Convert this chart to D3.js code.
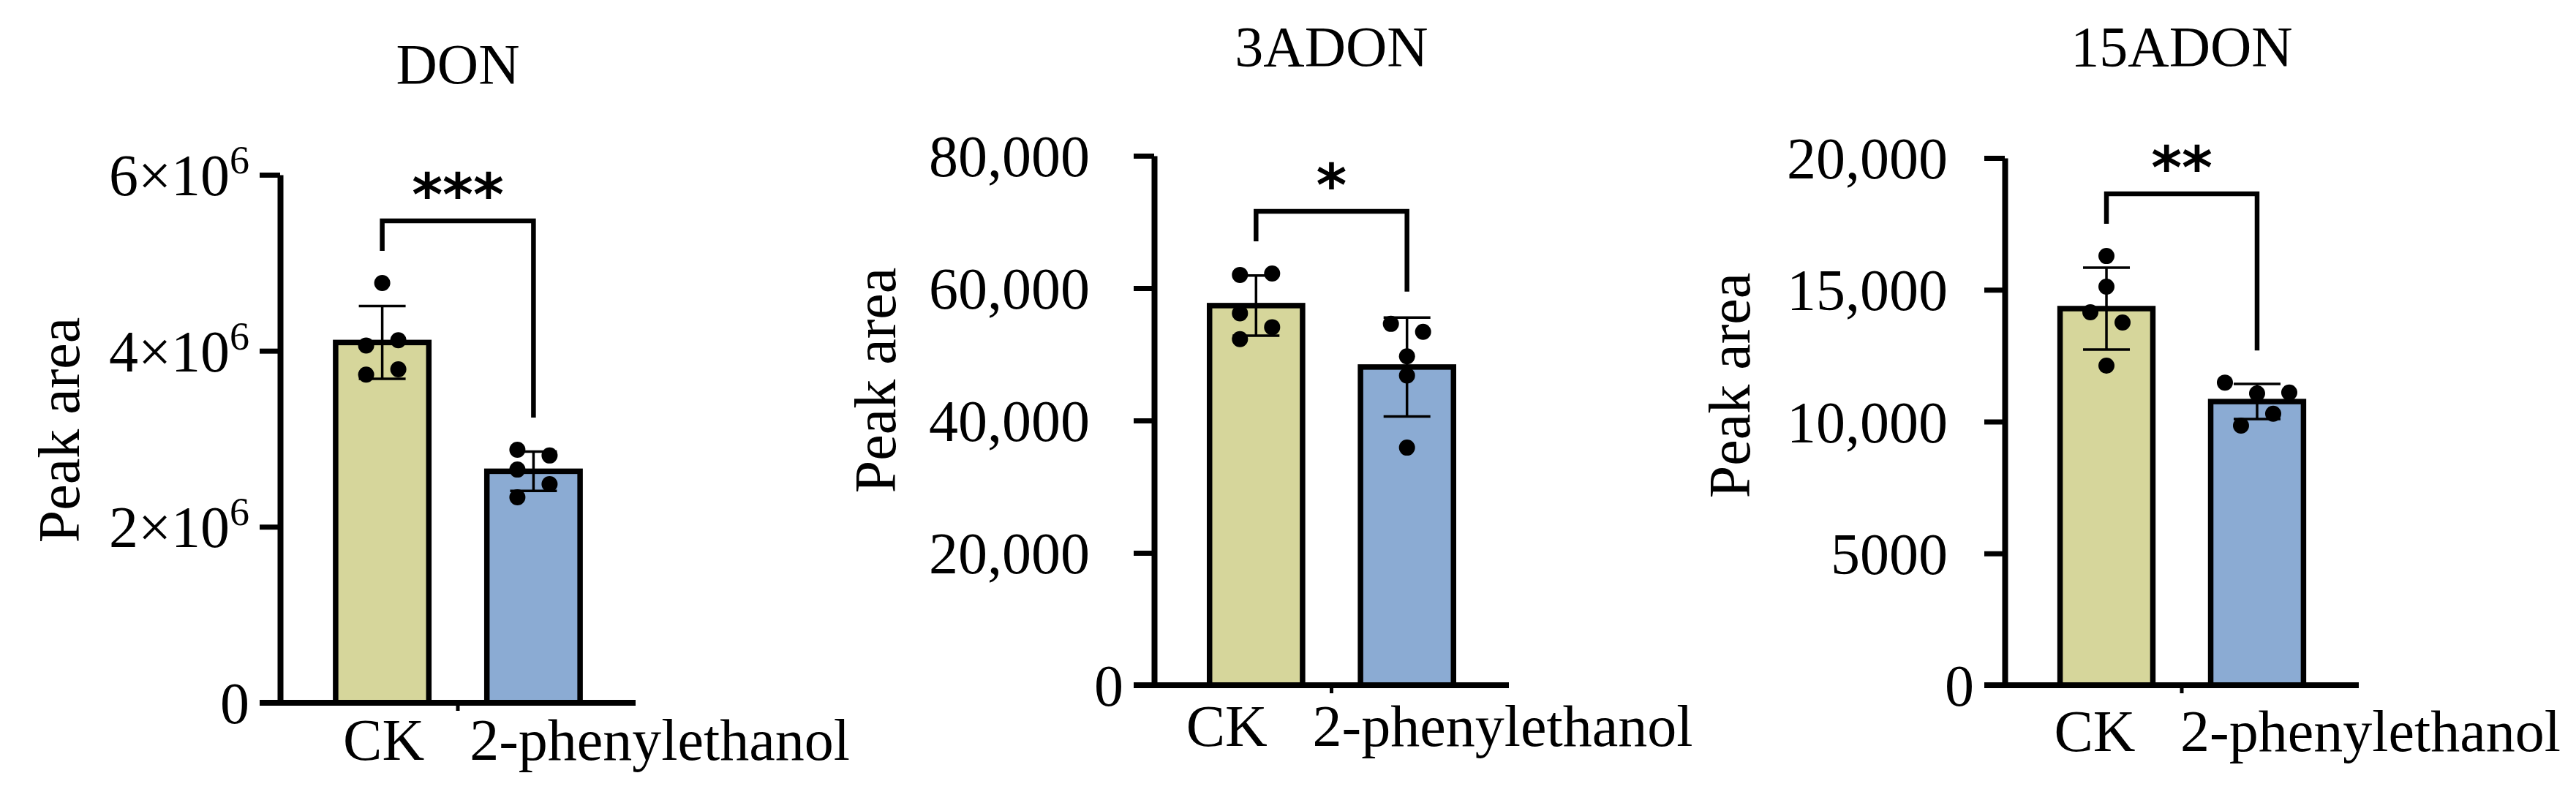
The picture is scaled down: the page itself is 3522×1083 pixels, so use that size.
<!DOCTYPE html>
<html>
<head>
<meta charset="utf-8">
<script src="https://cdn.jsdelivr.net/npm/d3@7"></script>
<style>
  body { margin: 0; background: #fff; }
</style>
</head>
<body>
<div id="chart"></div>
<script>
// groups and panel names
const groups = ["CK", "2-phenylethanol"];
const titles = ["DON", "3ADON", "15ADON"];
const signif = ["***", "*", "**"];

// replicate peak areas (5 per group)
const donCK = [4.77e6, 4.06e6, 4.12e6, 3.73e6, 3.79e6];
const donPE = [2.875e6, 2.81e6, 2.65e6, 2.485e6, 2.335e6];
const adon3CK = [62000, 62200, 56200, 54100, 52300];
const adon3PE = [54600, 53400, 49700, 46800, 35900];
const adon15CK = [16280, 15120, 14150, 13760, 12120];
const adon15PE = [11480, 11100, 11070, 10300, 9850];

// horizontal slot of each dot (scatter jitter)
const jitCK = [[0, -1, 1, -1, 1], [-1, 1, -1, 1, -1], [0, 0, -1, 1, 0]];
const jitPE = [[-1, 1, -1, 1, -1], [-1, 1, 0, 0, 0], [-2, 2, 0, 1, -1]];

// y axes
const yMax = [6e6, 80000, 20000];
const yTicks = [
  [0, 2e6, 4e6, 6e6],
  [0, 20000, 40000, 60000, 80000],
  [0, 5000, 10000, 15000, 20000]
];

const series = [[donCK, donPE], [adon3CK, adon3PE], [adon15CK, adon15PE]];

// layout
const width = 3522, height = 1083;
const layout = [
  { x0: 383, x1: 869, yTop: 239, yZero: 961, titleY: 114, ylabX: 108, ylabY: 588, xlabY: 1039, gap: 14, xlabDx: 2 },
  { x0: 1578, x1: 2063, yTop: 213, yZero: 937, titleY: 90, ylabX: 1224, ylabY: 520, xlabY: 1020, gap: 60, xlabDx: -40 },
  { x0: 2741, x1: 3225, yTop: 216, yZero: 937, titleY: 90, ylabX: 2392, ylabY: 527, xlabY: 1027, gap: 50, xlabDx: -16 }
];
const colors = ["#d6d69b", "#8babd3"];
const serif = "'Liberation Serif', 'Times New Roman', serif";
const tickLen = 28;

const svg = d3.select("#chart").append("svg")
  .attr("width", width)
  .attr("height", height)
  .style("background", "#fff");

function tickText(sel, v, i) {
  if (i === 0 && v !== 0) {
    sel.append("tspan").text(`${v / 1e6}×10`);
    sel.append("tspan").attr("font-size", 54).attr("dy", -30).text("6");
  } else if (i === 2 && v < 10000) {
    sel.text(String(v));
  } else {
    sel.text(d3.format(",")(v));
  }
}

titles.forEach((title, i) => {
  const L = layout[i];
  const g = svg.append("g");

  const y = d3.scaleLinear().domain([0, yMax[i]]).range([L.yZero, L.yTop]);
  const x = d3.scaleBand().domain(groups).range([L.x0, L.x1])
    .paddingInner(0.35).paddingOuter(0.35);
  const bw = x.bandwidth();

  const stats = groups.map((grp, k) => ({
    grp, k,
    vals: series[i][k],
    mean: d3.mean(series[i][k]),
    sd: d3.deviation(series[i][k])
  }));

  // bars
  g.selectAll(".bar").data(stats).enter().append("rect")
    .attr("x", d => x(d.grp) + 3.5)
    .attr("width", bw - 7)
    .attr("y", d => y(d.mean))
    .attr("height", d => y(0) - y(d.mean))
    .attr("fill", d => colors[d.k])
    .attr("stroke", "#000")
    .attr("stroke-width", 7.5);

  // error bars (mean ± SD)
  const eb = g.selectAll(".err").data(stats).enter().append("g");
  eb.append("line")
    .attr("x1", d => x(d.grp) + bw / 2).attr("x2", d => x(d.grp) + bw / 2)
    .attr("y1", d => y(d.mean + d.sd)).attr("y2", d => y(d.mean - d.sd))
    .attr("stroke", "#000").attr("stroke-width", 3.5);
  [1, -1].forEach(s => {
    eb.append("line")
      .attr("x1", d => x(d.grp) + bw / 2 - 32).attr("x2", d => x(d.grp) + bw / 2 + 32)
      .attr("y1", d => y(d.mean + s * d.sd)).attr("y2", d => y(d.mean + s * d.sd))
      .attr("stroke", "#000").attr("stroke-width", 3.5);
  });

  // dots
  stats.forEach(d => {
    const jit = d.k === 0 ? jitCK[i] : jitPE[i];
    g.selectAll(null).data(d.vals).enter().append("circle")
      .attr("cx", (v, j) => x(d.grp) + bw / 2 + jit[j] * 22)
      .attr("cy", v => y(v))
      .attr("r", 11)
      .attr("fill", "#000");
  });

  // y axis
  const yAxis = d3.axisLeft(y).tickValues(yTicks[i]).tickSize(tickLen).tickSizeOuter(0).tickFormat("");
  const ax = g.append("g").attr("transform", `translate(${L.x0},0)`).call(yAxis);
  ax.select(".domain").attr("stroke-width", 8);
  ax.selectAll(".tick line").attr("stroke-width", 7);

  g.selectAll(".ylab").data(yTicks[i]).enter().append("text")
    .attr("x", v => L.x0 - tickLen - (v === 0 ? 14 : L.gap))
    .attr("y", v => y(v))
    .attr("dy", "0.35em")
    .attr("text-anchor", "end")
    .attr("font-family", serif)
    .attr("font-size", 80)
    .each(function (v) { tickText(d3.select(this), v, i); });

  // x axis
  g.append("line")
    .attr("x1", L.x0 - tickLen).attr("x2", L.x1)
    .attr("y1", y(0)).attr("y2", y(0))
    .attr("stroke", "#000").attr("stroke-width", 8);
  g.append("line")
    .attr("x1", (L.x0 + L.x1) / 2).attr("x2", (L.x0 + L.x1) / 2)
    .attr("y1", y(0)).attr("y2", y(0) + 11)
    .attr("stroke", "#000").attr("stroke-width", 5);

  // category labels
  g.append("text")
    .attr("x", x(groups[0]) + bw / 2 + L.xlabDx)
    .attr("y", L.xlabY)
    .attr("text-anchor", "middle")
    .attr("font-family", serif).attr("font-size", 80)
    .text(groups[0]);
  g.append("text")
    .attr("x", x(groups[1]) - 22 + L.xlabDx)
    .attr("y", L.xlabY)
    .attr("text-anchor", "start")
    .attr("font-family", serif).attr("font-size", 80)
    .text(groups[1]);

  // significance bracket
  const cx0 = x(groups[0]) + bw / 2, cx1 = x(groups[1]) + bw / 2;
  const leg0 = y(d3.max(stats[0].vals)) - 11 - 33;
  const leg1 = y(d3.max(stats[1].vals)) - 11 - 33;
  const top = Math.min(leg0, leg1) - 41;
  g.append("path")
    .attr("d", `M${cx0},${leg0}V${top}H${cx1}V${leg1}`)
    .attr("fill", "none").attr("stroke", "#000").attr("stroke-width", 6.5);
  g.append("text")
    .attr("x", (cx0 + cx1) / 2)
    .attr("y", top - 8)
    .attr("text-anchor", "middle")
    .attr("font-family", "'DejaVu Sans', sans-serif")
    .attr("font-weight", "bold")
    .attr("font-size", 80)
    .text(signif[i]);

  // title
  g.append("text")
    .attr("x", (L.x0 + L.x1) / 2)
    .attr("y", L.titleY)
    .attr("text-anchor", "middle")
    .attr("font-family", serif).attr("font-size", 78)
    .text(title);

  // y axis title
  g.append("text")
    .attr("transform", `translate(${L.ylabX},${L.ylabY}) rotate(-90)`)
    .attr("text-anchor", "middle")
    .attr("font-family", serif).attr("font-size", 80)
    .text("Peak area");
});
</script>
</body>
</html>
